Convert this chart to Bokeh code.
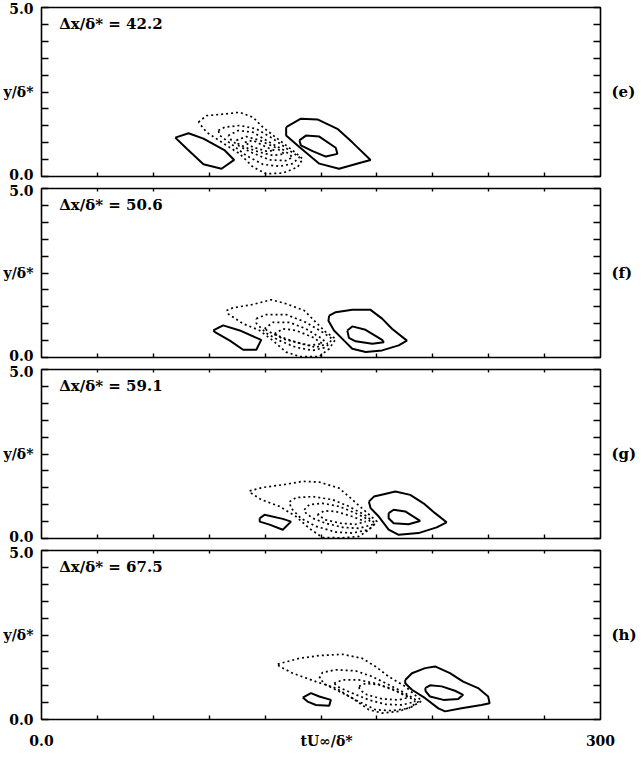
from bokeh.plotting import figure
from bokeh.models import Range1d, LinearAxis, FixedTicker, Label
from bokeh.layouts import column
from bokeh.embed import file_html
from bokeh.resources import INLINE

# ---------------- data ----------------
SEPARATIONS = ["42.2", "50.6", "59.1", "67.5"]
TAGS = ["(e)", "(f)", "(g)", "(h)"]
Y_MINOR_TICKS = [0.0, 0.5, 1.0, 1.5, 2.0, 2.5, 3.0, 3.5, 4.0, 4.5, 5.0]
X_MINOR_TICKS = [30, 60, 90, 120, 150, 180, 210, 240, 270]
Y_LABELED = {0: "0.0", 2.5: "y/\u03b4*", 5: "5.0"}
X_LABELED = {0: "0.0", 153: "tU\u221e/\u03b4*", 300: "300"}

# panel (e)
E_POS1_X = [71.8, 78.9, 86.9, 98.4, 103.4, 96.6, 86.9, 78.0]
E_POS1_Y = [1.15, 1.28, 1.12, 0.77, 0.49, 0.23, 0.36, 0.82]
E_POS2_X = [131.3, 139.2, 148.1, 158.8, 166.8, 176.6, 172.1, 159.7, 149.1, 138.4, 131.3]
E_POS2_Y = [1.46, 1.71, 1.69, 1.41, 1.01, 0.49, 0.42, 0.23, 0.38, 0.87, 1.21]
E_POS3_X = [138.4, 141.9, 149.1, 157.9, 158.8, 152.6, 145.5, 139.2]
E_POS3_Y = [1.07, 1.21, 1.18, 0.85, 0.67, 0.59, 0.75, 0.92]
E_NEG1_X = [84.2, 88.6, 98.4, 106.4, 113.5, 118.8, 127.7, 134.8, 140.2, 137.5, 129.5, 120.6, 113.5, 106.4, 99.3, 88.6]
E_NEG1_Y = [1.61, 1.80, 1.85, 1.90, 1.75, 1.46, 1.07, 0.77, 0.52, 0.28, 0.10, 0.08, 0.28, 0.67, 0.92, 1.31]
E_NEG2_X = [94.9, 98.4, 106.4, 115.3, 124.2, 133.1, 138.4, 134.8, 127.7, 118.8, 109.9, 102.8, 95.8]
E_NEG2_Y = [1.36, 1.46, 1.51, 1.41, 1.12, 0.77, 0.57, 0.38, 0.30, 0.36, 0.62, 0.92, 1.21]
E_NEG3_X = [100.2, 105.5, 113.5, 122.4, 130.4, 134.8, 131.3, 122.4, 113.5, 106.4, 101.9]
E_NEG3_Y = [1.21, 1.36, 1.31, 1.01, 0.77, 0.57, 0.47, 0.49, 0.69, 0.89, 1.07]
E_NEG4_X = [104.6, 109.9, 117.1, 125.9, 130.4, 124.2, 117.1, 109.9, 105.5]
E_NEG4_Y = [1.07, 1.18, 1.07, 0.85, 0.67, 0.62, 0.72, 0.85, 0.97]
E_NEG5_X = [109.1, 113.5, 120.6, 125.1, 120.6, 113.5]
E_NEG5_Y = [1.01, 1.07, 0.87, 0.77, 0.75, 0.87]

# panel (f)
F_POS1_X = [92.2, 97.5, 106.4, 117.9, 115.3, 108.2, 101.1, 93.1]
F_POS1_Y = [0.80, 0.95, 0.80, 0.52, 0.23, 0.23, 0.50, 0.75]
F_POS2_X = [154.4, 157.9, 166.8, 176.6, 182.8, 188.1, 196.1, 191.7, 182.8, 174.0, 166.8, 162.4, 157.0, 154.0]
F_POS2_Y = [1.24, 1.34, 1.41, 1.41, 1.15, 0.85, 0.50, 0.36, 0.21, 0.16, 0.26, 0.50, 0.80, 1.09]
F_POS3_X = [164.1, 166.8, 173.9, 182.8, 183.7, 177.5, 168.6, 165.0]
F_POS3_Y = [0.80, 0.92, 0.82, 0.52, 0.45, 0.41, 0.48, 0.58]
F_NEG1_X = [99.3, 102.8, 113.5, 123.3, 131.3, 141.0, 147.3, 152.6, 157.9, 154.4, 149.1, 138.4, 131.3, 124.2, 117.1, 108.2, 100.2]
F_NEG1_Y = [1.39, 1.47, 1.57, 1.71, 1.59, 1.39, 1.04, 0.75, 0.55, 0.26, 0.03, 0.03, 0.16, 0.50, 0.80, 1.00, 1.29]
F_NEG2_X = [115.3, 120.6, 131.3, 141.9, 150.8, 156.1, 152.6, 145.5, 136.6, 127.7, 120.6, 115.3]
F_NEG2_Y = [1.15, 1.27, 1.27, 1.04, 0.75, 0.55, 0.30, 0.21, 0.30, 0.50, 0.72, 1.01]
F_NEG3_X = [119.7, 124.2, 133.1, 141.9, 149.9, 153.5, 147.3, 139.2, 131.3, 124.2]
F_NEG3_Y = [0.85, 1.04, 1.04, 0.85, 0.58, 0.41, 0.30, 0.41, 0.55, 0.70]
F_NEG4_X = [125.1, 129.5, 136.6, 145.5, 150.8, 143.7, 136.6, 129.5]
F_NEG4_Y = [0.70, 0.85, 0.80, 0.60, 0.41, 0.36, 0.45, 0.55]

# panel (g)
G_POS1_X = [117.1, 119.7, 129.5, 133.9, 129.5, 122.4, 117.1]
G_POS1_Y = [0.60, 0.70, 0.58, 0.50, 0.26, 0.41, 0.50]
G_POS2_X = [175.7, 178.4, 183.7, 189.9, 197.9, 205.0, 211.2, 217.4, 212.1, 202.3, 191.7, 186.3, 181.0, 176.6]
G_POS2_Y = [1.09, 1.24, 1.31, 1.39, 1.29, 1.04, 0.75, 0.48, 0.33, 0.16, 0.11, 0.26, 0.65, 0.90]
G_POS3_X = [186.3, 189.0, 195.2, 203.2, 197.0, 189.0, 186.3]
G_POS3_Y = [0.75, 0.85, 0.80, 0.52, 0.42, 0.45, 0.60]
G_NEG1_X = [111.7, 118.8, 129.5, 140.2, 149.1, 159.7, 166.8, 173.9, 180.1, 175.7, 170.4, 161.5, 150.8, 143.7, 136.6, 127.7, 117.9, 112.6]
G_NEG1_Y = [1.41, 1.51, 1.59, 1.69, 1.67, 1.49, 1.15, 0.80, 0.50, 0.26, 0.06, 0.02, 0.03, 0.30, 0.65, 0.95, 1.15, 1.34]
G_NEG2_X = [133.1, 136.6, 145.5, 156.1, 165.0, 173.9, 179.2, 175.7, 166.8, 157.9, 147.3, 139.2, 133.9]
G_NEG2_Y = [1.09, 1.21, 1.24, 1.15, 0.95, 0.68, 0.45, 0.26, 0.16, 0.19, 0.36, 0.60, 0.90]
G_NEG3_X = [141.0, 143.7, 150.8, 159.7, 168.6, 175.7, 177.5, 170.4, 161.5, 152.6, 145.5, 141.9]
G_NEG3_Y = [0.85, 1.00, 1.04, 0.95, 0.75, 0.55, 0.41, 0.30, 0.33, 0.45, 0.60, 0.75]
G_NEG4_X = [148.1, 151.7, 157.9, 166.8, 173.9, 168.6, 160.6, 152.6]
G_NEG4_Y = [0.70, 0.82, 0.80, 0.65, 0.50, 0.42, 0.45, 0.55]

# panel (h)
H_POS1_X = [140.2, 144.6, 149.1, 155.3, 154.4, 147.3, 142.8]
H_POS1_Y = [0.65, 0.78, 0.68, 0.58, 0.41, 0.43, 0.53]
H_POS2_X = [195.2, 198.8, 205.9, 211.2, 219.2, 226.3, 234.3, 239.7, 240.5, 236.1, 225.4, 216.6, 213.0, 205.9, 198.8, 195.2]
H_POS2_Y = [1.17, 1.37, 1.52, 1.57, 1.37, 1.12, 0.93, 0.68, 0.48, 0.43, 0.33, 0.24, 0.33, 0.63, 0.88, 1.07]
H_POS3_X = [205.9, 208.5, 214.8, 221.9, 226.3, 223.7, 215.7, 208.5, 206.2]
H_POS3_Y = [0.93, 1.01, 0.98, 0.85, 0.73, 0.61, 0.58, 0.68, 0.83]
H_NEG1_X = [126.8, 138.4, 149.1, 161.5, 172.1, 179.2, 186.3, 195.2, 204.1, 198.8, 191.7, 182.8, 175.7, 166.8, 157.9, 147.3, 134.8, 127.7]
H_NEG1_Y = [1.64, 1.81, 1.89, 1.93, 1.81, 1.57, 1.27, 0.98, 0.55, 0.38, 0.24, 0.19, 0.29, 0.63, 0.93, 1.12, 1.37, 1.57]
H_NEG2_X = [149.1, 150.8, 157.9, 168.6, 177.5, 186.3, 195.2, 202.3, 197.0, 188.1, 179.2, 170.4, 161.5, 152.6]
H_NEG2_Y = [1.22, 1.39, 1.47, 1.44, 1.27, 1.03, 0.78, 0.53, 0.33, 0.26, 0.29, 0.53, 0.78, 1.03]
H_NEG3_X = [157.0, 161.5, 170.4, 179.2, 188.1, 197.0, 200.5, 193.4, 184.6, 175.7, 166.8, 159.7]
H_NEG3_Y = [1.07, 1.17, 1.17, 1.07, 0.91, 0.68, 0.53, 0.43, 0.45, 0.58, 0.78, 0.95]
H_NEG4_X = [170.4, 173.9, 181.0, 189.9, 197.0, 191.7, 182.8, 174.8, 170.7]
H_NEG4_Y = [0.98, 1.07, 1.03, 0.85, 0.65, 0.58, 0.61, 0.73, 0.88]

PANELS = [
    ([(E_POS1_X, E_POS1_Y), (E_POS2_X, E_POS2_Y), (E_POS3_X, E_POS3_Y)],
     [(E_NEG1_X, E_NEG1_Y), (E_NEG2_X, E_NEG2_Y), (E_NEG3_X, E_NEG3_Y),
      (E_NEG4_X, E_NEG4_Y), (E_NEG5_X, E_NEG5_Y)]),
    ([(F_POS1_X, F_POS1_Y), (F_POS2_X, F_POS2_Y), (F_POS3_X, F_POS3_Y)],
     [(F_NEG1_X, F_NEG1_Y), (F_NEG2_X, F_NEG2_Y), (F_NEG3_X, F_NEG3_Y),
      (F_NEG4_X, F_NEG4_Y)]),
    ([(G_POS1_X, G_POS1_Y), (G_POS2_X, G_POS2_Y), (G_POS3_X, G_POS3_Y)],
     [(G_NEG1_X, G_NEG1_Y), (G_NEG2_X, G_NEG2_Y), (G_NEG3_X, G_NEG3_Y),
      (G_NEG4_X, G_NEG4_Y)]),
    ([(H_POS1_X, H_POS1_Y), (H_POS2_X, H_POS2_Y), (H_POS3_X, H_POS3_Y)],
     [(H_NEG1_X, H_NEG1_Y), (H_NEG2_X, H_NEG2_Y), (H_NEG3_X, H_NEG3_Y),
      (H_NEG4_X, H_NEG4_Y)]),
]

# ---------------- styling ----------------
FONT = "DejaVu Serif"
FRAME_H = 169


def closed(xs, ys):
    return list(xs) + [xs[0]], list(ys) + [ys[0]]


def mk_axis(minor, tick_len, labeled=None, size="14px", standoff=8):
    labeled = labeled or {}
    ax = LinearAxis(ticker=FixedTicker(ticks=list(labeled.keys()), minor_ticks=minor))
    ax.axis_line_color = None
    ax.major_tick_in = 0
    ax.major_tick_out = 0
    ax.minor_tick_in = tick_len
    ax.minor_tick_out = 0
    ax.minor_tick_line_width = 1.4
    ax.minor_tick_line_color = "black"
    ax.major_label_overrides = dict(labeled)
    ax.major_label_text_font = FONT
    ax.major_label_text_font_style = "bold"
    ax.major_label_text_font_size = size
    ax.major_label_text_color = "black"
    ax.major_label_standoff = standoff
    return ax


figs = []
for i, (solids, dashes) in enumerate(PANELS):
    first = i == 0
    last = i == len(PANELS) - 1
    top = 7 if first else 6
    bottom = 44 if last else 6
    p = figure(width=643, height=top + FRAME_H + bottom,
               x_range=Range1d(0, 300), y_range=Range1d(0, 5),
               output_backend="svg", toolbar_location=None,
               x_axis_location=None, y_axis_location=None,
               min_border_left=37, min_border_right=43,
               min_border_top=top, min_border_bottom=bottom)
    p.grid.visible = False
    p.outline_line_color = "black"
    p.outline_line_width = 1.6
    p.background_fill_color = "white"
    p.border_fill_color = "white"

    p.add_layout(mk_axis(Y_MINOR_TICKS, 7, Y_LABELED, "14px", 8), "left")
    p.add_layout(mk_axis(Y_MINOR_TICKS, 7, {2.5: TAGS[i]}, "15px", 11), "right")
    if last:
        p.add_layout(mk_axis(X_MINOR_TICKS, 4, X_LABELED, "14px", 13), "below")
    else:
        p.add_layout(mk_axis(X_MINOR_TICKS, 4), "below")
    if not first:
        p.add_layout(mk_axis(X_MINOR_TICKS, 3), "above")

    for xs, ys in dashes:
        cx, cy = closed(xs, ys)
        p.line(cx, cy, line_color="black", line_width=1.7, line_dash="2 3")
    for xs, ys in solids:
        cx, cy = closed(xs, ys)
        p.line(cx, cy, line_color="black", line_width=2.0)

    p.add_layout(Label(x=9.5, y=4.5, text="\u0394x/\u03b4* = " + SEPARATIONS[i],
                       text_font=FONT, text_font_style="bold", text_font_size="15px",
                       text_baseline="middle", text_color="black"))
    figs.append(p)

layout = column(*figs, spacing=0)
open("out.html", "w").write(file_html(layout, INLINE))
